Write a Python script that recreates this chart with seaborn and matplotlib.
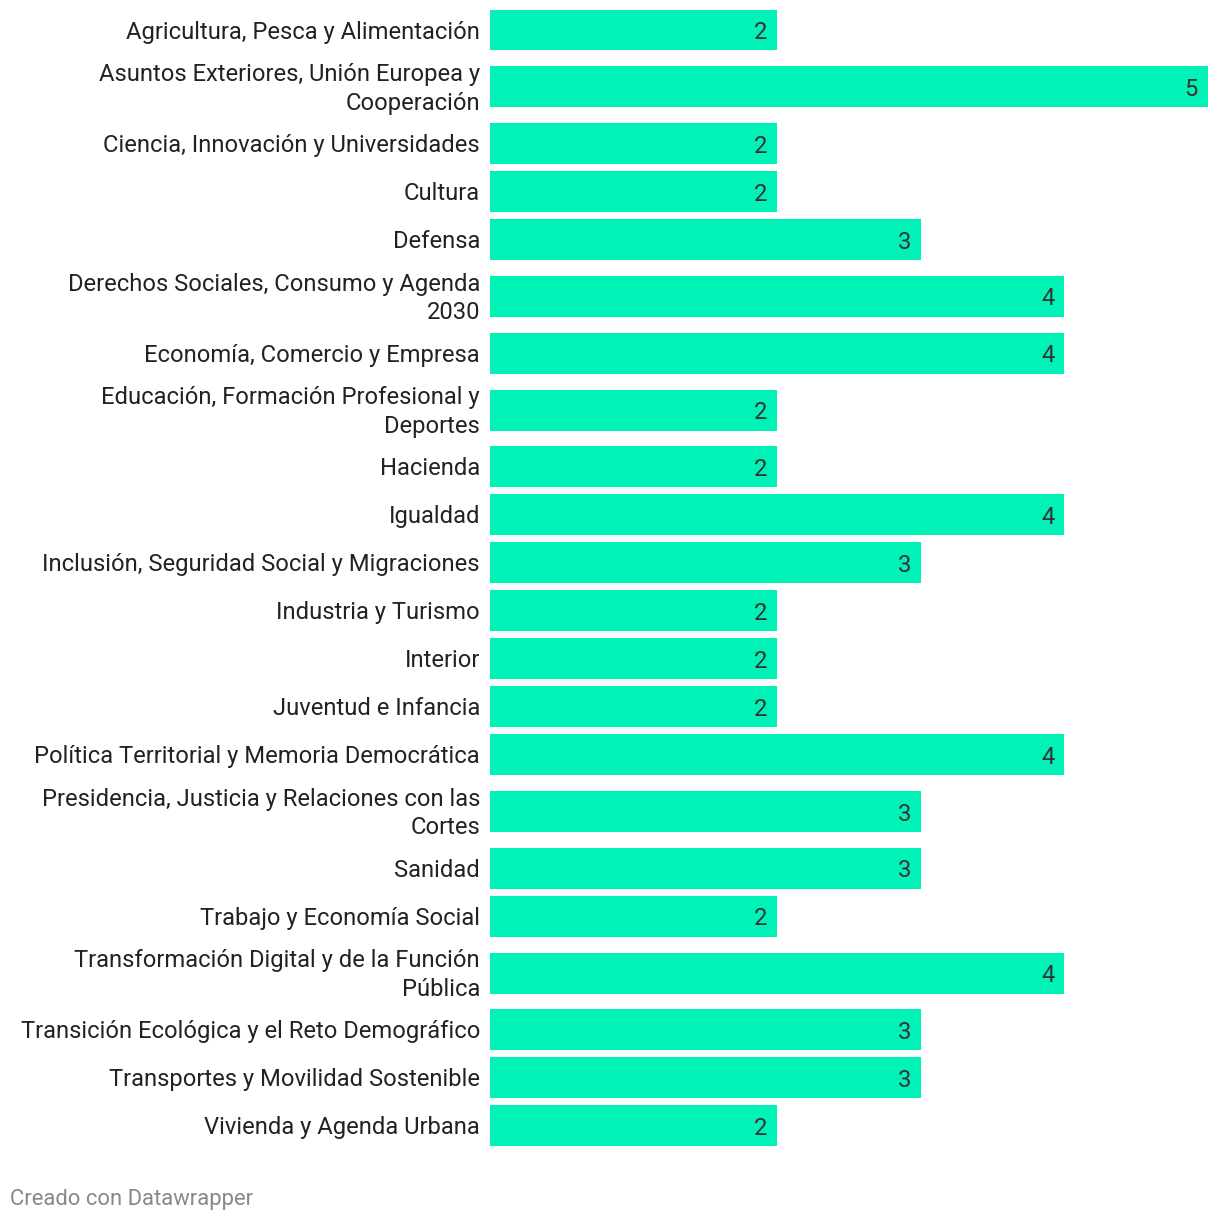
import matplotlib
matplotlib.use("Agg")
import matplotlib.pyplot as plt
import matplotlib.transforms as mtransforms
import seaborn as sns
import numpy as np
import pandas as pd

# Datos
ministerios = [
    "Agricultura, Pesca y Alimentación",
    "Asuntos Exteriores, Unión Europea y\nCooperación",
    "Ciencia, Innovación y Universidades",
    "Cultura",
    "Defensa",
    "Derechos Sociales, Consumo y Agenda\n2030",
    "Economía, Comercio y Empresa",
    "Educación, Formación Profesional y\nDeportes",
    "Hacienda",
    "Igualdad",
    "Inclusión, Seguridad Social y Migraciones",
    "Industria y Turismo",
    "Interior",
    "Juventud e Infancia",
    "Política Territorial y Memoria Democrática",
    "Presidencia, Justicia y Relaciones con las\nCortes",
    "Sanidad",
    "Trabajo y Economía Social",
    "Transformación Digital y de la Función\nPública",
    "Transición Ecológica y el Reto Demográfico",
    "Transportes y Movilidad Sostenible",
    "Vivienda y Agenda Urbana",
]
valores = [2, 5, 2, 2, 3, 4, 4, 2, 2, 4, 3, 2, 2, 2, 4, 3, 3, 2, 4, 3, 3, 2]

# Posiciones: filas de dos líneas ocupan más espacio
lineas = [m.count("\n") + 1 for m in ministerios]
pos = []
y = 0.0
for i, n in enumerate(lineas):
    if i > 0:
        y += 48 + 8.8 * (lineas[i - 1] - 1) + 8.8 * (n - 1)
    pos.append(y)

df = pd.DataFrame({"pos": pos, "valor": valores})

sns.set_style("white")
plt.rcParams["font.family"] = ["Roboto", "DejaVu Sans"]

W, H = 1220, 1222
fig = plt.figure(figsize=(W / 100, H / 100), dpi=100)
ax = fig.add_axes([490 / W, 0, 718 / W, 1])

sns.barplot(data=df, x="valor", y="pos", orient="h", native_scale=True,
            width=41 / 48, color="#00f2b6", saturation=1, linewidth=0, ax=ax)

ax.set_xlim(0, 5)
ax.set_ylim(H - 30, -30)
ax.set_yticks(pos)
ax.set_yticklabels(ministerios, fontsize=17.1, color="#222222",
                   linespacing=1.31, va="center")
ax.tick_params(axis="y", length=0, pad=7.2)
# bajar un poco las etiquetas
offset = mtransforms.ScaledTranslation(0, -2 / 100, fig.dpi_scale_trans)
for lab in ax.get_yticklabels():
    lab.set_transform(lab.get_transform() + offset)
ax.set_xticks([])
ax.set_xlabel("")
ax.set_ylabel("")
sns.despine(ax=ax, left=True, bottom=True)

for c in ax.containers:
    txts = ax.bar_label(c, padding=-7.2, fontsize=17.1, color="#333333")
    for t in txts:
        t.set_ha("right")
        t.set_va("center_baseline")

fig.text(10 / W, 1 - 1200 / H, "Creado con Datawrapper", fontsize=15.8,
         color="#888888", ha="left", va="center")

plt.savefig("out.png", dpi=100)
